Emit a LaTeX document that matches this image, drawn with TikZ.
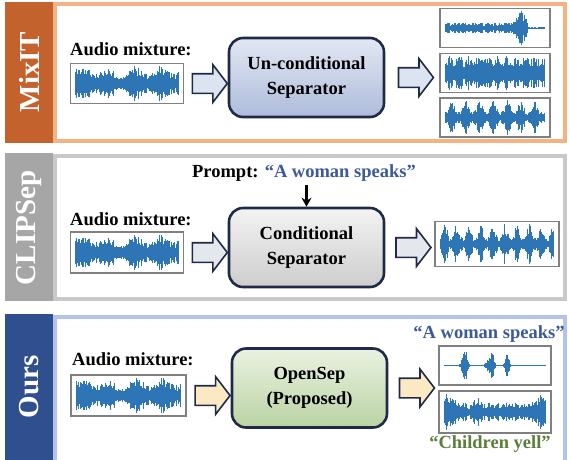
\documentclass[tikz,border=0pt]{standalone}
\usepackage{fontspec}
\setmainfont{Liberation Serif}
\usetikzlibrary{shapes.arrows,calc,arrows.meta}

\definecolor{mixtab}{HTML}{C4622D}
\definecolor{mixframe}{HTML}{F4B183}
\definecolor{cliptab}{HTML}{A6A6A6}
\definecolor{clipframe}{HTML}{C8C8C8}
\definecolor{ourtab}{HTML}{2F4F8F}
\definecolor{ourframe}{HTML}{B4C3EA}
\definecolor{waveblue}{HTML}{2E75B6}
\definecolor{boxgray}{HTML}{808080}
\definecolor{sepline}{HTML}{1F2B46}
\definecolor{qblue}{HTML}{3C5A99}
\definecolor{qgreen}{HTML}{5B7F38}
\definecolor{septopb}{HTML}{E2E8F3}
\definecolor{sepbotb}{HTML}{AEBCDB}
\definecolor{septopg}{HTML}{F3F3F3}
\definecolor{sepbotg}{HTML}{CDCDCD}
\definecolor{septopn}{HTML}{EAF2E1}
\definecolor{sepbotn}{HTML}{BAD3A3}
\definecolor{arrblue}{HTML}{DCE4F2}
\definecolor{arrgray}{HTML}{E4E7EC}
\definecolor{arryel}{HTML}{FBE9C4}

\tikzset{
  tab/.style={text=white, font=\fontsize{29}{29}\selectfont\bfseries, rotate=90, inner sep=0pt},
  lbl/.style={font=\fontsize{18.5}{22}\selectfont\bfseries, inner sep=0pt, anchor=base west},
  wavebox/.style={draw=boxgray, line width=1.8pt, fill=white, inner sep=0pt},
  sepbox/.style={draw=sepline, line width=2.6pt, rounded corners=14pt, align=center,
    font=\fontsize{18.5}{25}\selectfont\bfseries, inner sep=0pt, minimum width=155pt, minimum height=79pt},
  bigarrow/.style={shape=single arrow, draw=sepline, line width=1.6pt, single arrow head extend=9pt,
    single arrow tip angle=105, inner xsep=0pt, inner ysep=9pt, minimum height=35pt},
  wavecol/.style={draw=waveblue, line width=0.9pt}
}

\newcommand{\wave}[3]{%
  \path (#1.south west); \pgfgetlastxy{\wxa}{\wya}%
  \path (#1.north east); \pgfgetlastxy{\wxb}{\wyb}%
  \pgfmathsetseed{#3}%
  \foreach \k in {0,...,130}{%
    \pgfmathsetmacro\wt{\k/130}%
    \pgfmathsetmacro\wx{\wxa+6+(\wxb-\wxa-12)*\wt}%
    \pgfmathsetmacro\wa{(abs(\wyb-\wya)/2-3)*min(1,#2)*(0.45+0.55*rnd)}%
    \pgfmathsetmacro\wlo{(\wya+\wyb)/2-\wa}%
    \pgfmathsetmacro\whi{(\wya+\wyb)/2+\wa}%
    \draw[wavecol] (\wx pt,\wlo pt) -- (\wx pt,\whi pt);
  }}
\newcommand{\mixenv}{(0.78+0.22*sin(\wt*1400))*(1-0.45*exp(-((\wt-0.42)/0.05)^2))}

\begin{document}
\begin{tikzpicture}[x=1pt,y=-1pt]
  \useasboundingbox (0,0) rectangle (570,459);
  \clip (0,0) rectangle (570,459);

  \fill[mixtab] (5,2) rectangle (53,143);
  \draw[mixframe, line width=4pt] (55,4) rectangle (565,141);
  \node[tab] (t1) at (29,72) {MixIT};
  \node[lbl] (a1) at (70,55) {Audio mixture:};
  \node[wavebox, minimum width=113pt, minimum height=40pt] (mix1) at (127,83.5) {};
  \node[sepbox, top color=septopb, bottom color=sepbotb] (sep1) at (306.5,77.5) {Un-conditional\\Separator};
  \node[wavebox, minimum width=110pt, minimum height=39pt] (out1a) at (495,28) {};
  \node[wavebox, minimum width=110pt, minimum height=39pt] (out1b) at (495,73) {};
  \node[wavebox, minimum width=110pt, minimum height=39pt] (out1c) at (495,117.5) {};
  \node[bigarrow, fill=arrblue] (r1) at ($(mix1.east)!0.5!(sep1.west |- mix1.east)$) {};
  \node[bigarrow, fill=arrblue] (r2) at ($(sep1.east)!0.5!(out1b.west |- sep1.east)$) {};
  \wave{mix1}{\mixenv}{11}
  \wave{out1a}{ifthenelse(\wt<0.83, 0.3+0.75*exp(-((\wt-0.76)/0.05)^2), 0.05)}{12}
  \wave{out1b}{0.6+0.4*abs(sin(\wt*1900))}{13}
  \wave{out1c}{0.35+0.65*abs(sin(\wt*1300))^3}{14}

  \fill[cliptab] (5,153) rectangle (53,301);
  \draw[clipframe, line width=4pt] (55,156) rectangle (565,299);
  \node[tab] (t2) at (29,228) {CLIPSep};
  \node[lbl, anchor=base] (p2) at (304,177) {Prompt: \textcolor{qblue}{“A woman speaks”}};
  \node[lbl] (a2) at (70,225) {Audio mixture:};
  \node[wavebox, minimum width=113pt, minimum height=41pt] (mix2) at (127,252.5) {};
  \node[sepbox, top color=septopg, bottom color=sepbotg] (sep2) at (306.5,247.5) {Conditional\\Separator};
  \node[wavebox, minimum width=124pt, minimum height=45pt] (out2) at (497,244) {};
  \node[bigarrow, fill=arrgray] (r3) at ($(mix2.east)!0.5!(sep2.west |- mix2.east)$) {};
  \node[bigarrow, fill=arrgray] (r4) at ($(sep2.east)!0.5!(out2.west |- sep2.east)$) {};
  \draw[line width=2.5pt, -{Stealth[length=9pt,width=10pt]}, shorten <=4pt] (p2.south -| sep2.north) -- (sep2.north);
  \wave{mix2}{\mixenv}{11}
  \wave{out2}{0.3+0.7*abs(sin(\wt*1700+20))^3}{15}

  \fill[ourtab] (5,314) rectangle (53,462);
  \draw[ourframe, line width=4pt] (55,317) rectangle (565,470);
  \node[tab] (t3) at (29,387) {Ours};
  \node[lbl] (a3) at (72,365) {Audio mixture:};
  \node[wavebox, minimum width=115pt, minimum height=41pt] (mix3) at (128.5,395.5) {};
  \node[sepbox, top color=septopn, bottom color=sepbotn] (sep3) at (309.5,388) {OpenSep\\(Proposed)};
  \node[wavebox, minimum width=112pt, minimum height=39pt] (out3a) at (495,365.5) {};
  \node[wavebox, minimum width=112pt, minimum height=42pt] (out3b) at (495,412) {};
  \node[lbl, anchor=base, text=qblue] (q3a) at (489,338) {“A woman speaks”};
  \node[lbl, anchor=base, text=qgreen] (q3b) at (490,448) {“Children yell”};
  \node[bigarrow, fill=arryel] (r5) at ($(mix3.east)!0.5!(sep3.west |- mix3.east)$) {};
  \node[bigarrow, fill=arryel] (r6) at ($(sep3.east)!0.5!(out3a.west |- sep3.east)$) {};
  \wave{mix3}{\mixenv}{11}
  \wave{out3a}{0.04+exp(-((\wt-0.2)/0.03)^2)+0.9*exp(-((\wt-0.47)/0.025)^2)+0.8*exp(-((\wt-0.62)/0.022)^2)+0.3*exp(-((\wt-0.42)/0.02)^2)}{16}
  \wave{out3b}{0.35+0.6*exp(-((\wt-0.05)/0.06)^2)+0.4*exp(-((\wt-0.33)/0.03)^2)+0.5*exp(-((\wt-0.95)/0.05)^2)+0.15*abs(sin(\wt*2200))}{17}
\end{tikzpicture}
\end{document}
